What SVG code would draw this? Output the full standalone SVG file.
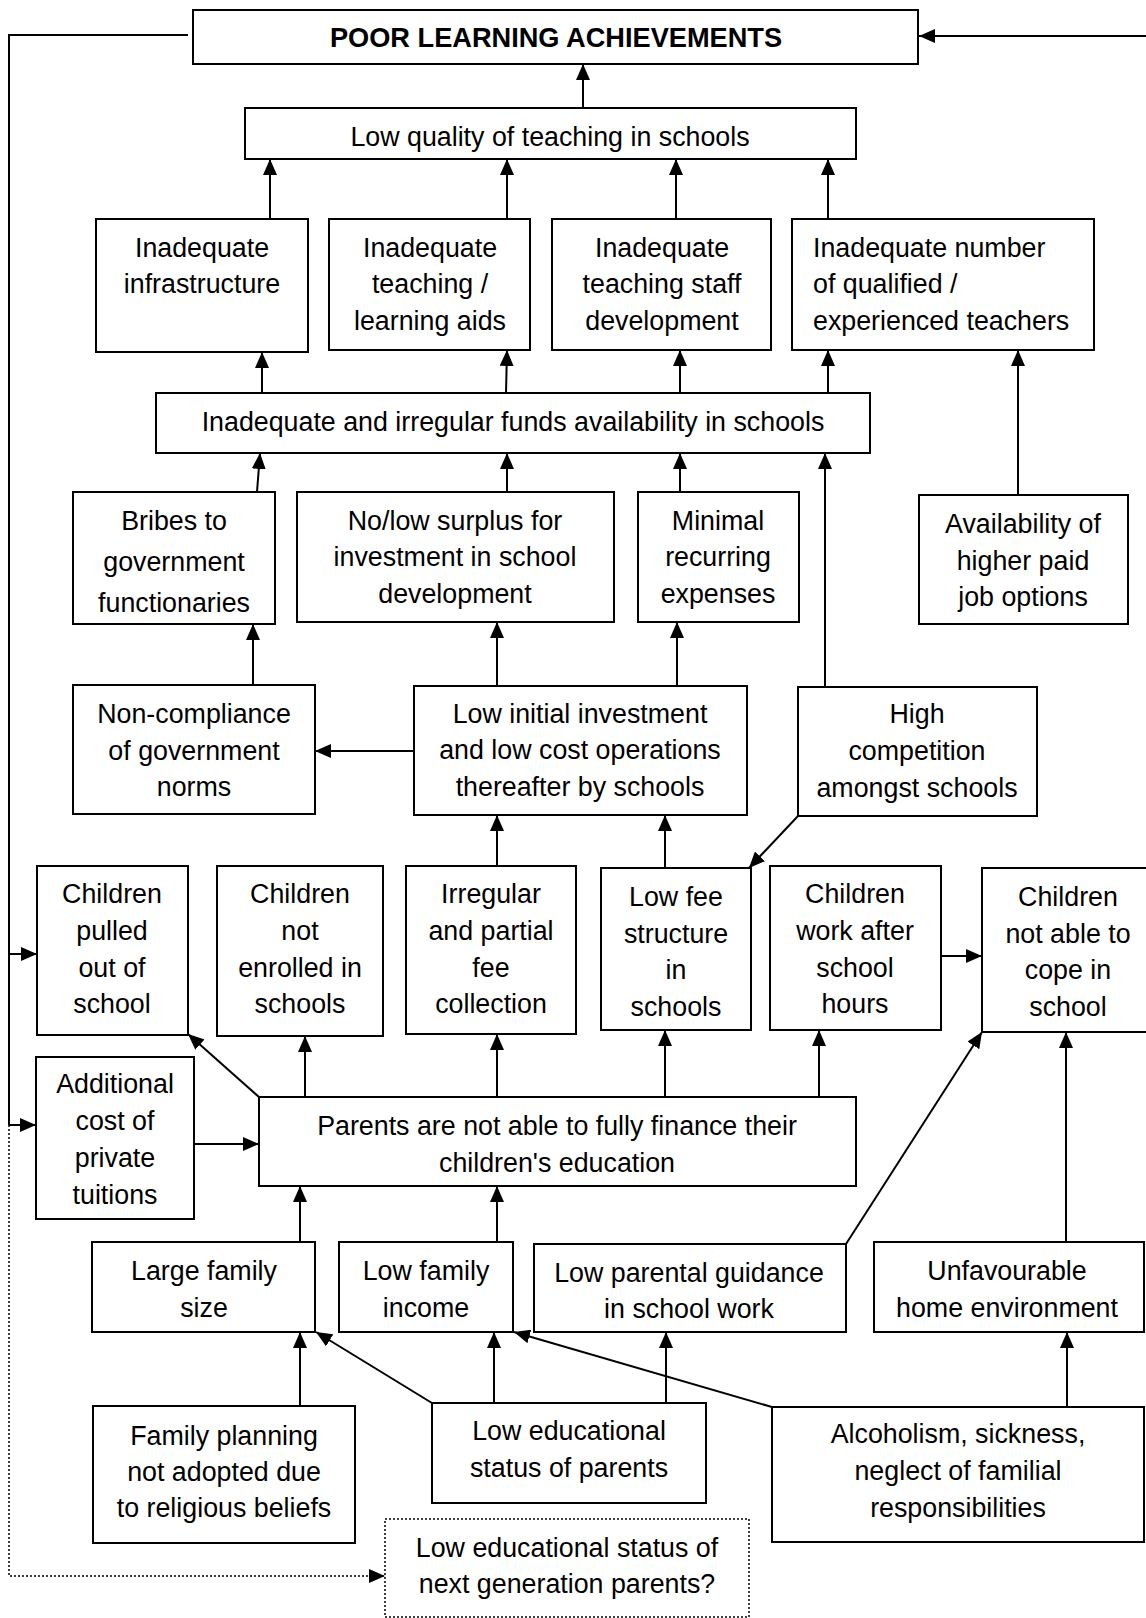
<svg xmlns="http://www.w3.org/2000/svg" width="1146" height="1618" viewBox="0 0 1146 1618">
<style>
.box{fill:#fff;stroke:#000;stroke-width:2}
.dotbox{fill:#fff;stroke:#000;stroke-width:1.5;stroke-dasharray:2 2}
text{font-family:"Liberation Sans",Arial,sans-serif;font-size:26.8px;fill:#000;text-anchor:middle}
.title{font-weight:bold;font-size:27.2px}
.left{text-anchor:start}
.ln{stroke:#000;stroke-width:2;fill:none}
.arr{marker-end:url(#ah)}
.dl{stroke:#000;stroke-width:1.5;fill:none;stroke-dasharray:2 2}
</style>
<defs>
<marker id="ah" markerUnits="userSpaceOnUse" markerWidth="16" markerHeight="14" refX="16" refY="7" orient="auto">
<path d="M0,0 L16,7 L0,14 z" fill="#000"/>
</marker>
</defs>
<rect width="1146" height="1618" fill="#fff"/>
<g id="connectors">
<path class="ln arr" d="M583,108 V64"/>
<path class="ln" d="M188,35 H9 V1125"/>
<path class="ln arr" d="M9,954 H37"/>
<path class="ln arr" d="M9,1125 H36"/>
<path class="ln arr" d="M1146,36 H919"/>
<path class="dl arr" d="M9,1125 V1576 H385"/>
<path class="ln arr" d="M270,219 V159"/>
<path class="ln arr" d="M507,219 V159"/>
<path class="ln arr" d="M676,219 V159"/>
<path class="ln arr" d="M828,219 V159"/>
<path class="ln arr" d="M262,393 V352"/>
<path class="ln arr" d="M506,393 L507,350"/>
<path class="ln arr" d="M680,393 V350"/>
<path class="ln arr" d="M828,393 V350"/>
<path class="ln arr" d="M1018,495 V350"/>
<path class="ln arr" d="M257,492 L260,453"/>
<path class="ln arr" d="M507,492 V453"/>
<path class="ln arr" d="M680,492 V453"/>
<path class="ln arr" d="M825,687 V453"/>
<path class="ln arr" d="M253,685 V624"/>
<path class="ln arr" d="M497,686 V622"/>
<path class="ln arr" d="M677,686 V622"/>
<path class="ln arr" d="M414,751 H315"/>
<path class="ln arr" d="M497,866 V815"/>
<path class="ln arr" d="M665,868 V815"/>
<path class="ln arr" d="M798,816 L749,868"/>
<path class="ln arr" d="M259,1097 L188,1034"/>
<path class="ln arr" d="M305,1097 V1036"/>
<path class="ln arr" d="M497,1097 V1034"/>
<path class="ln arr" d="M665,1097 V1030"/>
<path class="ln arr" d="M819,1097 V1030"/>
<path class="ln arr" d="M941,956 H982"/>
<path class="ln arr" d="M194,1144 H259"/>
<path class="ln arr" d="M300,1242 V1186"/>
<path class="ln arr" d="M497,1242 V1186"/>
<path class="ln arr" d="M846,1244 L982,1032"/>
<path class="ln arr" d="M1066,1242 V1032"/>
<path class="ln arr" d="M300,1406 V1332"/>
<path class="ln arr" d="M432,1403 L316,1332"/>
<path class="ln arr" d="M494,1403 V1332"/>
<path class="ln arr" d="M666,1403 V1332"/>
<path class="ln arr" d="M772,1407 L514,1332"/>
<path class="ln arr" d="M1067,1407 V1332"/>
</g>
<g id="n-poor"><rect class="box" x="193" y="10" width="725" height="54"/><text class="title" x="556" y="47">POOR LEARNING ACHIEVEMENTS</text></g>
<g id="n-lowquality"><rect class="box" x="245" y="108" width="611" height="51"/><text x="550" y="146">Low quality of teaching in schools</text></g>
<g id="n-infra"><rect class="box" x="96" y="219" width="212" height="133"/><text x="202" y="257">Inadequate</text><text x="202" y="293">infrastructure</text></g>
<g id="n-aids"><rect class="box" x="329" y="219" width="201" height="131"/><text x="430" y="257">Inadequate</text><text x="430" y="293">teaching /</text><text x="430" y="330">learning aids</text></g>
<g id="n-staff"><rect class="box" x="552" y="219" width="219" height="131"/><text x="662" y="257">Inadequate</text><text x="662" y="293">teaching staff</text><text x="662" y="330">development</text></g>
<g id="n-qualified"><rect class="box" x="792" y="219" width="302" height="131"/><text class="left" x="813" y="257">Inadequate number</text><text class="left" x="813" y="293">of qualified /</text><text class="left" x="813" y="330">experienced teachers</text></g>
<g id="n-funds"><rect class="box" x="156" y="393" width="714" height="60"/><text x="513" y="431">Inadequate and irregular funds availability in schools</text></g>
<g id="n-bribes"><rect class="box" x="73" y="492" width="202" height="132"/><text x="174" y="530">Bribes to</text><text x="174" y="571">government</text><text x="174" y="612">functionaries</text></g>
<g id="n-surplus"><rect class="box" x="297" y="492" width="317" height="130"/><text x="455" y="530">No/low surplus for</text><text x="455" y="566">investment in school</text><text x="455" y="603">development</text></g>
<g id="n-minimal"><rect class="box" x="638" y="492" width="161" height="130"/><text x="718" y="530">Minimal</text><text x="718" y="566">recurring</text><text x="718" y="603">expenses</text></g>
<g id="n-availability"><rect class="box" x="919" y="495" width="209" height="129"/><text x="1023" y="533">Availability of</text><text x="1023" y="570">higher paid</text><text x="1023" y="606">job options</text></g>
<g id="n-noncompliance"><rect class="box" x="73" y="685" width="242" height="129"/><text x="194" y="723">Non-compliance</text><text x="194" y="760">of government</text><text x="194" y="796">norms</text></g>
<g id="n-lowinitial"><rect class="box" x="414" y="686" width="333" height="129"/><text x="580" y="723">Low initial investment</text><text x="580" y="759">and low cost operations</text><text x="580" y="796">thereafter by schools</text></g>
<g id="n-competition"><rect class="box" x="798" y="687" width="239" height="129"/><text x="917" y="723">High</text><text x="917" y="760">competition</text><text x="917" y="797">amongst schools</text></g>
<g id="n-pulled"><rect class="box" x="37" y="866" width="151" height="169"/><text x="112" y="903">Children</text><text x="112" y="940">pulled</text><text x="112" y="977">out of</text><text x="112" y="1013">school</text></g>
<g id="n-notenrolled"><rect class="box" x="217" y="866" width="166" height="170"/><text x="300" y="903">Children</text><text x="300" y="940">not</text><text x="300" y="977">enrolled in</text><text x="300" y="1013">schools</text></g>
<g id="n-irregular"><rect class="box" x="406" y="866" width="170" height="168"/><text x="491" y="903">Irregular</text><text x="491" y="940">and partial</text><text x="491" y="977">fee</text><text x="491" y="1013">collection</text></g>
<g id="n-lowfee"><rect class="box" x="601" y="868" width="150" height="162"/><text x="676" y="906">Low fee</text><text x="676" y="943">structure</text><text x="676" y="979">in</text><text x="676" y="1016">schools</text></g>
<g id="n-work"><rect class="box" x="770" y="866" width="171" height="164"/><text x="855" y="903">Children</text><text x="855" y="940">work after</text><text x="855" y="977">school</text><text x="855" y="1013">hours</text></g>
<g id="n-cope"><rect class="box" x="982" y="868" width="175" height="164"/><text x="1068" y="906">Children</text><text x="1068" y="943">not able to</text><text x="1068" y="979">cope in</text><text x="1068" y="1016">school</text></g>
<g id="n-additional"><rect class="box" x="36" y="1057" width="158" height="162"/><text x="115" y="1093">Additional</text><text x="115" y="1130">cost of</text><text x="115" y="1167">private</text><text x="115" y="1204">tuitions</text></g>
<g id="n-parents"><rect class="box" x="259" y="1097" width="597" height="89"/><text x="557" y="1135">Parents are not able to fully finance their</text><text x="557" y="1172">children's education</text></g>
<g id="n-large"><rect class="box" x="92" y="1242" width="223" height="90"/><text x="204" y="1280">Large family</text><text x="204" y="1317">size</text></g>
<g id="n-income"><rect class="box" x="339" y="1242" width="174" height="90"/><text x="426" y="1280">Low family</text><text x="426" y="1317">income</text></g>
<g id="n-guidance"><rect class="box" x="534" y="1244" width="312" height="88"/><text x="689" y="1282">Low parental guidance</text><text x="689" y="1318">in school work</text></g>
<g id="n-unfavourable"><rect class="box" x="874" y="1242" width="270" height="90"/><text x="1007" y="1280">Unfavourable</text><text x="1007" y="1317">home environment</text></g>
<g id="n-familyplanning"><rect class="box" x="93" y="1406" width="262" height="137"/><text x="224" y="1445">Family planning</text><text x="224" y="1481">not adopted due</text><text x="224" y="1517">to religious beliefs</text></g>
<g id="n-lowed"><rect class="box" x="432" y="1403" width="274" height="100"/><text x="569" y="1440">Low educational</text><text x="569" y="1477">status of parents</text></g>
<g id="n-alcoholism"><rect class="box" x="772" y="1407" width="372" height="135"/><text x="958" y="1443">Alcoholism, sickness,</text><text x="958" y="1480">neglect of familial</text><text x="958" y="1517">responsibilities</text></g>
<g id="n-nextgen"><rect class="dotbox" x="385" y="1519" width="364" height="98"/><text x="567" y="1557">Low educational status of</text><text x="567" y="1593">next generation parents?</text></g>
</svg>
